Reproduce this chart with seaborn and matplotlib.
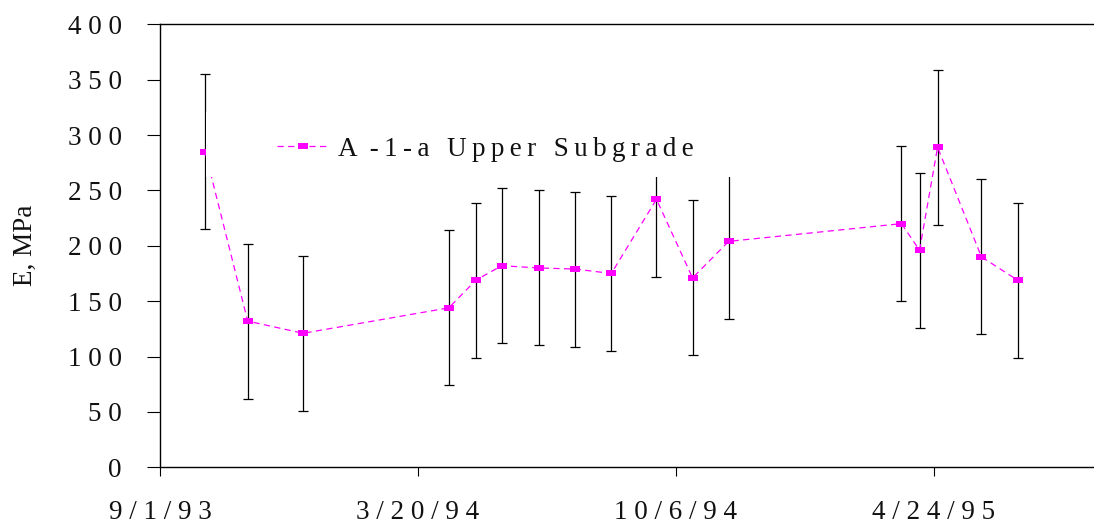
import numpy as np
import pandas as pd
import matplotlib
matplotlib.use("Agg")
import matplotlib.pyplot as plt
import matplotlib.dates as mdates
from matplotlib.patches import Rectangle
from matplotlib.path import Path
import seaborn as sns

# Resilient modulus of the A-1-a upper subgrade over time
dates = ["1993-10-06", "1993-11-08", "1993-12-21", "1994-04-13", "1994-05-04",
         "1994-05-24", "1994-06-22", "1994-07-20", "1994-08-17", "1994-09-21",
         "1994-10-19", "1994-11-16", "1995-03-30", "1995-04-13", "1995-04-27",
         "1995-05-31", "1995-06-28"]
modulus = [285, 132, 121, 144, 169, 182, 180, 179, 175, 242, 171, 204, 220, 196, 289, 190, 169]
spread = [70] * len(modulus)

tick_dates = ["1993-09-01", "1994-03-20", "1994-10-06", "1995-04-24"]
tick_labels = ["9 / 1 / 9 3", "3 / 2 0 / 9 4", "1 0 / 6 / 9 4", "4 / 2 4 / 9 5"]
y_ticks = [0, 50, 100, 150, 200, 250, 300, 350, 400]
series_name = "A\u2009 -\u20091\u2009-\u2009a\u2009 \u2009U\u2009p\u2009p\u2009e\u2009r\u2009 \u2009S\u2009u\u2009b\u2009g\u2009r\u2009a\u2009d\u2009e"

df = pd.DataFrame({"date": pd.to_datetime(dates), "E": modulus, "err": spread})

sns.set_style("ticks")
plt.rcParams["font.family"] = ["Liberation Serif", "DejaVu Serif"]

fig = plt.figure(figsize=(10.94, 5.29), dpi=100)
ax = fig.add_axes([160 / 1094, 1 - 467.3 / 529, 934 / 1094, 443 / 529])

magenta = "#FF00FF"
dash = (0, (5, 3.5))
# wide, short square markers
rect_marker = Path([(-1.4, -1), (1.4, -1), (1.4, 1), (-1.4, 1), (-1.4, -1)],
                   [Path.MOVETO, Path.LINETO, Path.LINETO, Path.LINETO, Path.CLOSEPOLY])

ax.errorbar(df["date"], df["E"], yerr=df["err"], fmt="none", ecolor="black",
            elinewidth=0.9, capsize=3.3, capthick=0.9, zorder=2)
sns.lineplot(data=df, x="date", y="E", ax=ax, color=magenta, linewidth=0.9,
             linestyle=dash, marker=rect_marker, markersize=7, markeredgewidth=0,
             markerfacecolor=magenta, label=series_name, legend=False, zorder=3)

start = pd.Timestamp(tick_dates[0])
ax.set_xlim(start, start + pd.Timedelta(days=724.3))
ax.set_ylim(0, 400)

ax.set_xticks(pd.to_datetime(tick_dates))
ax.set_xticklabels(tick_labels)
ax.set_yticks(y_ticks)
ax.set_yticklabels([" ".join(str(v)) for v in y_ticks])

for side in ["left", "bottom", "top"]:
    ax.spines[side].set_visible(True)
    ax.spines[side].set_color("black")
    ax.spines[side].set_linewidth(1.0)
ax.spines["right"].set_visible(False)

ax.tick_params(axis="y", direction="out", length=9.6, width=0.8, pad=18,
               labelsize=19.5, colors="black")
ax.tick_params(axis="x", direction="out", length=6.8, width=0.8, pad=17,
               labelsize=19.5, colors="black")
for lab in ax.get_yticklabels() + ax.get_xticklabels():
    lab.set_color("#111111")

ax.set_xlabel("")
ax.set_ylabel("E, MPa", fontsize=19.5, color="#111111")
ax.yaxis.set_label_coords(-0.131, 0.5)

# white legend panel sits above the data
ax.add_patch(Rectangle((0.0493, 0.6553), 0.577, 0.147, transform=ax.transAxes,
                       facecolor="white", edgecolor="none", zorder=4.5))
leg = ax.legend(loc="center left", bbox_to_anchor=(0.1249, 0.7185), frameon=False,
                fontsize=19.5, handlelength=1.91, handletextpad=0.37,
                borderpad=0, borderaxespad=0, numpoints=1)
leg.set_zorder(5)
for t in leg.get_texts():
    t.set_color("#111111")

fig.savefig("out.png", dpi=100, facecolor="white")
